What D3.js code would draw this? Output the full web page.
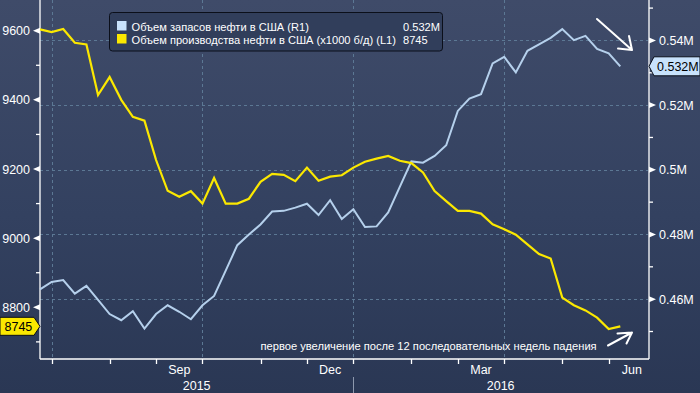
<!DOCTYPE html>
<html>
<head>
<meta charset="utf-8">
<script src="https://cdn.jsdelivr.net/npm/d3@7"></script>
<style>
  html, body { margin: 0; padding: 0; background: #2c3955; }
  svg { display: block; }
  text { font-family: "Liberation Sans", Arial, sans-serif; }
</style>
</head>
<body>
<div id="chart"></div>
<script>
// ---------------- data ----------------
const weekDates = [
  "2015-06-26","2015-07-03","2015-07-10","2015-07-17","2015-07-24","2015-07-31",
  "2015-08-07","2015-08-14","2015-08-21","2015-08-28","2015-09-04","2015-09-11",
  "2015-09-18","2015-09-25","2015-10-02","2015-10-09","2015-10-16","2015-10-23",
  "2015-10-30","2015-11-06","2015-11-13","2015-11-20","2015-11-27","2015-12-04",
  "2015-12-11","2015-12-18","2015-12-25","2016-01-01","2016-01-08","2016-01-15",
  "2016-01-22","2016-01-29","2016-02-05","2016-02-12","2016-02-19","2016-02-26",
  "2016-03-04","2016-03-11","2016-03-18","2016-03-25","2016-04-01","2016-04-08",
  "2016-04-15","2016-04-22","2016-04-29","2016-05-06","2016-05-13","2016-05-20",
  "2016-05-27","2016-06-03","2016-06-10"
];
// US crude production, thousand b/d (L1)
const production = [
  9604, 9596, 9605, 9565, 9560, 9414, 9466, 9400, 9351, 9340,
  9226, 9137, 9120, 9136, 9100, 9174, 9100, 9100, 9114, 9163,
  9186, 9183, 9165, 9204, 9166, 9178, 9182, 9204, 9221, 9230,
  9238, 9224, 9217, 9190, 9136, 9107, 9079, 9079, 9071, 9040,
  9026, 9010, 8982, 8954, 8941, 8828, 8806, 8791, 8770, 8737,
  8745
];
// US crude inventories, million barrels -> shown in M (R1)
const inventories = [
  0.4630, 0.4653, 0.4659, 0.4617, 0.4641, 0.4598, 0.4554, 0.4535, 0.4563, 0.4509,
  0.4554, 0.4581, 0.4561, 0.4538, 0.4581, 0.4610, 0.4688, 0.4767, 0.4800, 0.4831,
  0.4871, 0.4873, 0.4883, 0.4895, 0.4860, 0.4906, 0.4848, 0.4878, 0.4823, 0.4825,
  0.4868, 0.4947, 0.5026, 0.5022, 0.5043, 0.5076, 0.5182, 0.5220, 0.5234, 0.5329,
  0.5349, 0.5301, 0.5368, 0.5388, 0.5408, 0.5435, 0.5401, 0.5414, 0.5374, 0.5360,
  0.5320
];
const seriesNames = ["Объем запасов нефти в США (R1)", "Объем производства нефти в США (x1000 б/д) (L1)"];
const lastLabels = ["0.532M", "8745"];
const leftTicks = [8800, 9000, 9200, 9400, 9600];
const leftMinorTicks = [8700, 8900, 9100, 9300, 9500];
const rightTicks = [0.46, 0.48, 0.50, 0.52, 0.54];
const rightMinorTicks = [0.45, 0.47, 0.49, 0.51, 0.53, 0.55];
const monthTicks = ["2015-07-03","2015-08-07","2015-09-04","2015-10-02","2015-11-06","2015-12-04",
                    "2016-01-01","2016-02-05","2016-03-04","2016-04-01","2016-05-06","2016-06-03","2016-07-01"];
const quarterGrid = ["2015-07-03","2015-10-02","2016-01-01","2016-04-01"];
const monthLabels = ["Sep","Dec","Mar","Jun"];
const monthLabelStarts = ["2015-09-04","2015-12-04","2016-03-04","2016-06-03"];
const yearLabels = ["2015","2016"];
const yearStart = "2016-01-01";
const xDomain = ["2015-06-26T00:00Z", "2016-06-26T17:00Z"];
const annotation = "первое увеличение после 12 последовательных недель падения";

// ---------------- layout ----------------
const W = 700, H = 393;
const M = { left: 40, right: 648, top: 0, bottom: 359 };
const parse = s => new Date(s.length === 10 ? s + "T00:00Z" : s);

const x = d3.scaleUtc().domain(xDomain.map(parse)).range([M.left, M.right]);
const yL = d3.scaleLinear().domain([8650.5, 9688.8]).range([M.bottom, M.top]);
const yR = d3.scaleLinear().domain([0.4415, 0.5525]).range([M.bottom, M.top]);

const C = {
  blue: "#b5d0ec", blueSwatch: "#c8e2fc", yellow: "#fbe800", grid: "#5c7894",
  axis: "#ffffff", text: "#ffffff"
};

const svg = d3.select("#chart").append("svg").attr("width", W).attr("height", H);
const defs = svg.append("defs");
const grad = defs.append("linearGradient").attr("id", "bg").attr("x1", 0).attr("y1", 0).attr("x2", 0).attr("y2", 1);
grad.append("stop").attr("offset", "0%").attr("stop-color", "#3f4b69");
grad.append("stop").attr("offset", "55%").attr("stop-color", "#334160");
grad.append("stop").attr("offset", "100%").attr("stop-color", "#2a3754");
svg.append("rect").attr("width", W).attr("height", H).attr("fill", "url(#bg)");

// gridlines
const grid = svg.append("g").attr("stroke", C.grid).attr("stroke-dasharray", "3,3").attr("stroke-width", 1);
grid.selectAll("line.h").data(rightTicks).join("line")
  .attr("x1", M.left).attr("x2", M.right)
  .attr("y1", d => Math.round(yR(d)) + 0.5).attr("y2", d => Math.round(yR(d)) + 0.5);
grid.selectAll("line.v").data(quarterGrid).join("line")
  .attr("x1", d => Math.round(x(parse(d))) + 0.5).attr("x2", d => Math.round(x(parse(d))) + 0.5)
  .attr("y1", M.top).attr("y2", M.bottom);

// axes lines
const ax = svg.append("g").attr("stroke", C.axis).attr("stroke-width", 1.3);
ax.append("line").attr("x1", M.left).attr("x2", M.left).attr("y1", 0).attr("y2", M.bottom);
ax.append("line").attr("x1", M.right + 1).attr("x2", M.right + 1).attr("y1", 0).attr("y2", M.bottom);
ax.append("line").attr("x1", M.left).attr("x2", M.right + 1).attr("y1", M.bottom).attr("y2", M.bottom);

// left axis via d3.axisLeft
const leftAxis = svg.append("g").attr("transform", `translate(${M.left},0)`)
  .call(d3.axisLeft(yL).tickValues(leftTicks).tickSize(0).tickPadding(10).tickFormat(d3.format("d")));
leftAxis.select(".domain").remove();
leftAxis.selectAll("text").attr("fill", C.text).attr("font-size", 12.5).attr("font-family", "Liberation Sans, Arial, sans-serif");
svg.append("g").selectAll("path").data(leftTicks).join("path")
  .attr("d", d => `M${M.left},${yL(d) - 3}L${M.left - 7},${yL(d)}L${M.left},${yL(d) + 3}Z`)
  .attr("fill", C.axis);
svg.append("g").selectAll("line").data(leftMinorTicks).join("line")
  .attr("x1", M.left - 4).attr("x2", M.left)
  .attr("y1", d => yL(d)).attr("y2", d => yL(d)).attr("stroke", C.axis).attr("stroke-width", 1.3);

// right axis via d3.axisRight
const rightAxis = svg.append("g").attr("transform", `translate(${M.right + 1},0)`)
  .call(d3.axisRight(yR).tickValues(rightTicks).tickSize(0).tickPadding(10).tickFormat(d => d3.format("~g")(d) + "M"));
rightAxis.select(".domain").remove();
rightAxis.selectAll("text").attr("fill", C.text).attr("font-size", 12.5).attr("font-family", "Liberation Sans, Arial, sans-serif");
svg.append("g").selectAll("path").data(rightTicks).join("path")
  .attr("d", d => `M${M.right + 1},${yR(d) - 3}L${M.right + 8},${yR(d)}L${M.right + 1},${yR(d) + 3}Z`)
  .attr("fill", C.axis);
svg.append("g").selectAll("line").data(rightMinorTicks).join("line")
  .attr("x1", M.right + 1).attr("x2", M.right + 5)
  .attr("y1", d => yR(d)).attr("y2", d => yR(d)).attr("stroke", C.axis).attr("stroke-width", 1.3);

// bottom axis ticks
const inRange = monthTicks.filter(d => x(parse(d)) <= M.right);
svg.append("g").selectAll("line").data(inRange).join("line")
  .attr("x1", d => Math.round(x(parse(d))) + 0.5).attr("x2", d => Math.round(x(parse(d))) + 0.5)
  .attr("y1", M.bottom).attr("y2", M.bottom + 5).attr("stroke", C.axis).attr("stroke-width", 1.3);
svg.append("g").selectAll("text").data(monthLabels).join("text")
  .attr("x", (d, i) => {
    const s = monthTicks.indexOf(monthLabelStarts[i]);
    return (x(parse(monthTicks[s])) + x(parse(monthTicks[s + 1]))) / 2;
  })
  .attr("y", 374).attr("text-anchor", "middle").attr("fill", C.text).attr("font-size", 12.5)
  .text(d => d);
const yb = [x.domain()[0], parse(yearStart), x.domain()[1]];
svg.append("g").selectAll("text").data(yearLabels).join("text")
  .attr("x", (d, i) => (x(yb[i]) + x(yb[i + 1])) / 2)
  .attr("y", 390).attr("text-anchor", "middle").attr("fill", C.text).attr("font-size", 12.5)
  .text(d => d);
svg.append("line")
  .attr("x1", Math.round(x(parse(yearStart))) + 0.5).attr("x2", Math.round(x(parse(yearStart))) + 0.5)
  .attr("y1", 377).attr("y2", H).attr("stroke", "#8d98ad").attr("stroke-width", 1);

// lines
const dates = weekDates.map(parse);
const lineL = d3.line().x((d, i) => x(dates[i])).y(d => yL(d));
const lineR = d3.line().x((d, i) => x(dates[i])).y(d => yR(d));
svg.append("path").datum(inventories).attr("d", lineR).attr("fill", "none")
  .attr("stroke", C.blue).attr("stroke-width", 2).attr("stroke-linejoin", "miter");
svg.append("path").datum(production).attr("d", lineL).attr("fill", "none")
  .attr("stroke", C.yellow).attr("stroke-width", 2.2).attr("stroke-linejoin", "miter");

// legend
const lg = svg.append("g");
lg.append("rect").attr("x", 109.5).attr("y", 12.5).attr("width", 333).attr("height", 38.5).attr("rx", 3)
  .attr("fill", "#313e5b").attr("stroke", "#0b0f1a").attr("stroke-width", 1);
const swatchColors = [C.blueSwatch, C.yellow];
seriesNames.forEach((name, i) => {
  const by = 30.5 + i * 13;
  lg.append("rect").attr("x", 117).attr("y", by - 9.5).attr("width", 9.5).attr("height", 9.5).attr("fill", swatchColors[i]);
  lg.append("text").attr("x", 131.5).attr("y", by).attr("fill", C.text).attr("font-size", 11.1).text(name);
  lg.append("text").attr("x", 403).attr("y", by).attr("fill", C.text).attr("font-size", 11.1).text(lastLabels[i]);
});

// last value tags
const yLast = yR(inventories[inventories.length - 1]);
svg.append("path")
  .attr("d", `M${M.right + 1},${yLast}L${M.right + 6},${yLast - 9.5}L${W},${yLast - 9.5}L${W},${yLast + 9.5}L${M.right + 6},${yLast + 9.5}Z`)
  .attr("fill", C.blueSwatch).attr("stroke", "#0b0f1a").attr("stroke-width", 1);
svg.append("text").attr("x", M.right + 9).attr("y", yLast).attr("dy", "0.36em").attr("fill", "#000")
  .attr("font-size", 12.5).text(lastLabels[0]);
const yLastL = yL(production[production.length - 1]);
svg.append("path")
  .attr("d", `M0,${yLastL - 9}L${M.left - 6},${yLastL - 9}L${M.left},${yLastL}L${M.left - 6},${yLastL + 9}L0,${yLastL + 9}Z`)
  .attr("fill", C.yellow).attr("stroke", "#0b0f1a").attr("stroke-width", 1);
svg.append("text").attr("x", 4.5).attr("y", yLastL).attr("dy", "0.36em").attr("fill", "#000")
  .attr("font-size", 12.5).text(lastLabels[1]);

// annotation
svg.append("text").attr("x", 260.5).attr("y", 350).attr("fill", C.text).attr("font-size", 11.15).text(annotation);

// arrows
const arrows = svg.append("g").attr("stroke", "#ffffff").attr("stroke-width", 2).attr("fill", "none")
  .attr("stroke-linecap", "round").attr("stroke-linejoin", "round");
arrows.append("path").attr("d", "M597,19L632,50M618,48.5L632,50L629,36");
arrows.append("path").attr("d", "M608,345.5L632,332.5M617.5,333.5L632,332.5L626.5,343.5");
</script>
</body>
</html>
